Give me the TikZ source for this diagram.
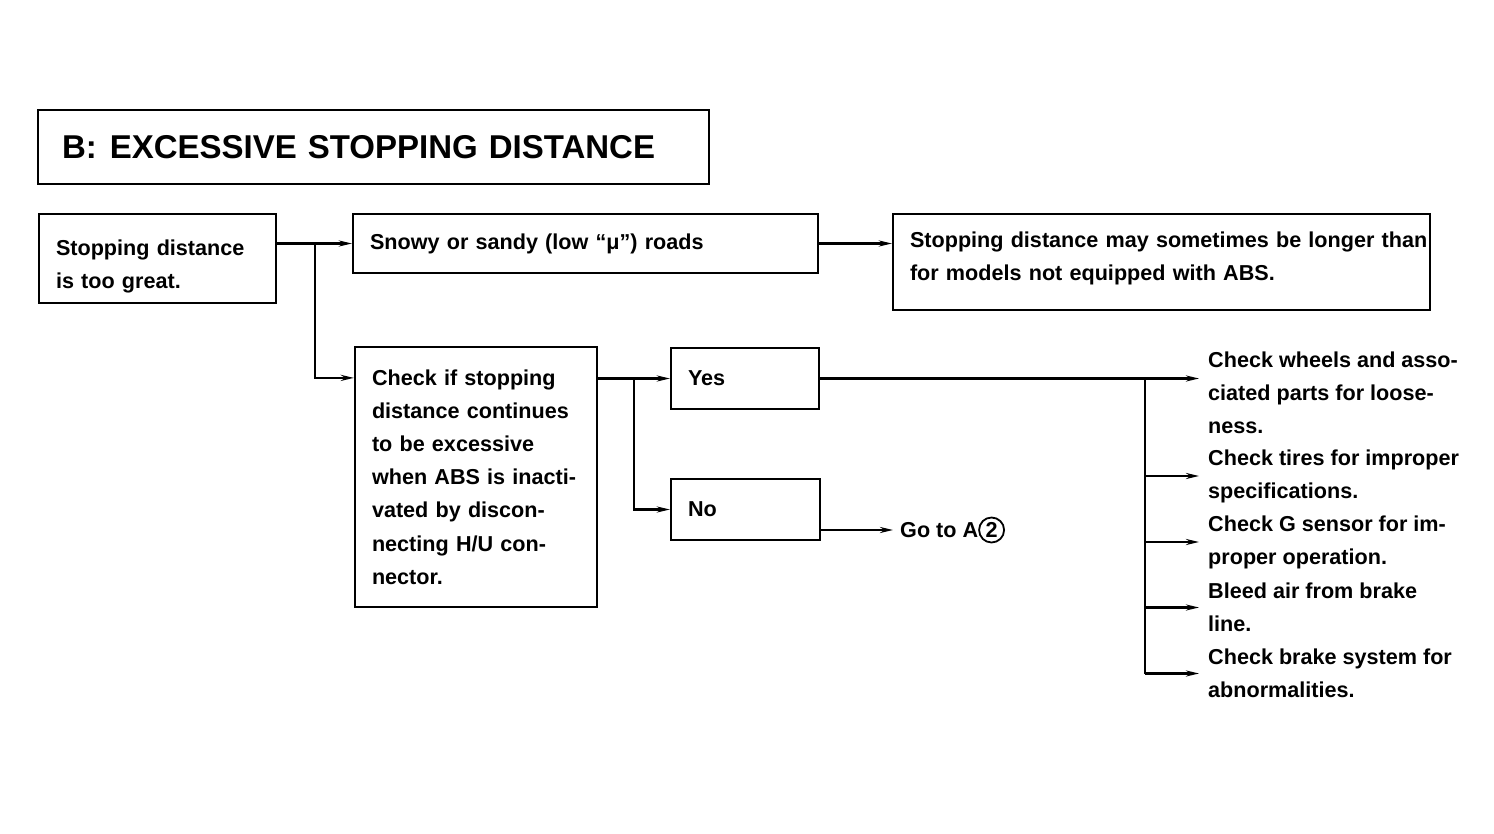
\documentclass[tikz,border=0pt]{standalone}
\usepackage{fontspec}
\setmainfont{Liberation Sans}
\usetikzlibrary{arrows.meta}

\newcommand{\encircle}[1]{\tikz[baseline=(n.base)]\node[draw,circle,line width=1.8pt,inner sep=1pt,minimum size=25pt](n){#1};}

\begin{document}
\begin{tikzpicture}[x=1pt,y=-1pt,
  box/.style={draw,line width=2.2pt,align=left,inner xsep=17pt,inner ysep=0pt,
    font=\bfseries\fontsize{21.6pt}{33.2pt}\selectfont},
  item/.style={anchor=west,align=left,inner xsep=9pt,inner ysep=0pt,
    font=\bfseries\fontsize{21.6pt}{33pt}\selectfont},
  arr/.style={line width=2.2pt,-{Stealth[length=13pt,width=6pt]}},
  ln/.style={line width=2.2pt}]
\useasboundingbox (0,0) rectangle (1494,834);

\node[draw,line width=2.2pt,minimum width=671pt,minimum height=74pt,text width=623pt,
  inner xsep=24pt,align=left,font=\bfseries\fontsize{33pt}{36pt}\selectfont]
  (title) at (373.5,147) {B:\hspace{13pt}EXCESSIVE STOPPING DISTANCE};

\node[box,minimum width=237pt,minimum height=89pt,text width=203pt,text height=31pt]
  (start) at (157.5,258.5) {Stopping distance\\ is too great.};
\node[box,minimum width=465pt,minimum height=59pt,text width=431pt] (snowy) at (585.5,243.5)
  {Snowy or sandy (low “μ”) roads};
\node[box,minimum width=537pt,minimum height=96pt,text width=503pt,text height=8pt]
  (longer) at (1161.5,262)
  {\mbox{Stopping distance may sometimes be longer than}\\ for models not equipped with ABS.};
\node[box,minimum width=242pt,minimum height=260pt,text width=208pt] (check) at (476,477)
  {Check if stopping\\ distance continues\\ to be excessive\\ when ABS is inacti-\\
   vated by discon-\\ necting H/U con-\\ nector.};
\node[box,minimum width=148pt,minimum height=61pt,text width=114pt] (yes) at (745,378.5) {Yes};
\node[box,minimum width=149pt,minimum height=61pt,text width=115pt] (no) at (745.5,509.5) {No};

\node[item,inner xsep=7pt] (goto) at (893,530) {Go to A\encircle{2}};

\node[item] (c1) at (1199,393) {Check wheels and asso-\\ ciated parts for loose-\\ ness.};
\node[item] (c2) at (1199,476) {Check tires for improper\\ specifications.};
\node[item] (c3) at (1199,542) {Check G sensor for im-\\ proper operation.};
\node[item] (c4) at (1199,607.5) {Bleed air from brake\\ line.};
\node[item] (c5) at (1199,673.5) {Check brake system for\\ abnormalities.};

\coordinate (split1) at (315,244);
\coordinate (split2) at (634,378.5);
\coordinate (bus) at (1145,378.5);

\draw[arr] (start.east |- snowy.west) -- (snowy.west);
\draw[arr] (split1) |- ([yshift=-32pt]check.north west);
\draw[arr] (snowy.east) -- (snowy.east -| longer.west);
\draw[arr] (check.east |- yes.west) -- (yes.west);
\draw[arr] (split2) |- (no.west);
\draw[arr] (goto.west -| no.east) -- (goto.west);
\draw[arr] (yes.east) -- (yes.east -| c1.west);
\draw[ln] (bus) -- (bus |- c5.west);
\draw[arr] (bus |- c2.west) -- (c2.west);
\draw[arr] (bus |- c3.west) -- (c3.west);
\draw[arr] (bus |- c4.west) -- (c4.west);
\draw[arr] (bus |- c5.west) -- (c5.west);
\end{tikzpicture}
\end{document}
